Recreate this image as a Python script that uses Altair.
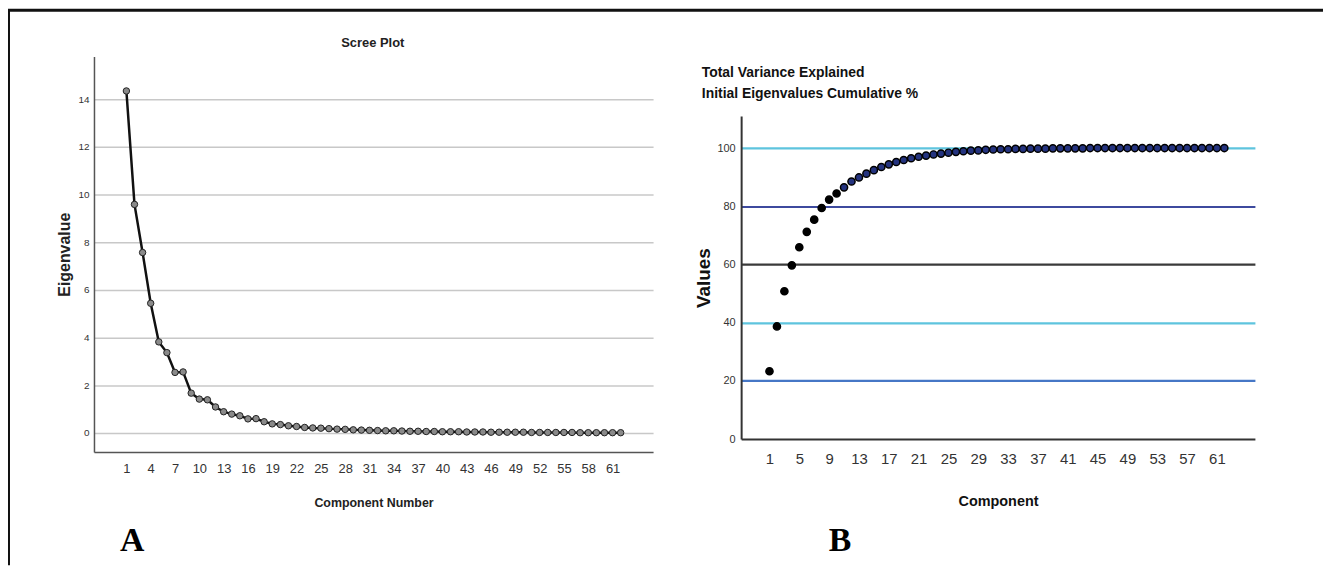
import altair as alt
import pandas as pd

# ---------------- data ----------------
components = list(range(1, 63))
eigenvalues = [14.35, 9.59, 7.57, 5.44, 3.82, 3.37, 2.54, 2.56, 1.67, 1.42,
               1.39, 1.09, 0.89, 0.79, 0.72, 0.59, 0.60, 0.47, 0.38, 0.35,
               0.30, 0.27, 0.23, 0.21, 0.20, 0.18, 0.16, 0.15, 0.13, 0.12,
               0.11, 0.10, 0.09, 0.09, 0.08, 0.07, 0.07, 0.06, 0.06, 0.05,
               0.05, 0.05, 0.04, 0.04, 0.04, 0.03, 0.03, 0.03, 0.03, 0.03,
               0.02, 0.02, 0.02, 0.02, 0.02, 0.02, 0.01, 0.01, 0.01, 0.01,
               0.01, 0.01]
cumulative_pct = [23.3, 38.7, 50.8, 59.7, 65.9, 71.2, 75.4, 79.4, 82.3, 84.4,
                  86.5, 88.5, 89.9, 91.2, 92.4, 93.5, 94.4, 95.2, 95.9, 96.5,
                  97.0, 97.4, 97.8, 98.1, 98.4, 98.7, 98.9, 99.1, 99.2, 99.4,
                  99.5, 99.6, 99.6, 99.7, 99.7, 99.8, 99.8, 99.8, 99.9, 99.9,
                  99.9, 99.9, 99.9, 100.0, 100.0, 100.0, 100.0, 100.0, 100.0, 100.0,
                  100.0, 100.0, 100.0, 100.0, 100.0, 100.0, 100.0, 100.0, 100.0, 100.0,
                  100.0, 100.0]
left_x_ticks = list(range(1, 62, 3))
left_y_ticks = [0, 2, 4, 6, 8, 10, 12, 14]
right_x_ticks = list(range(1, 62, 4))
right_y_ticks = [0, 20, 40, 60, 80, 100]

df_a = pd.DataFrame({"Component": components, "Eigenvalue": eigenvalues})
df_b = pd.DataFrame({"Component": components, "Cumulative": cumulative_pct})

W, H = 1323, 559
SANS = "Liberation Sans, Arial, sans-serif"
SERIF = "Liberation Serif, Times New Roman, serif"

# ---------------- panel A: scree plot ----------------
xa = alt.X("Component:Q",
           scale=alt.Scale(domain=[-3, 66], range=[86.5, 649], nice=False, zero=False),
           axis=alt.Axis(orient="bottom", offset=-114, values=left_x_ticks, grid=False,
                         ticks=False, domainColor="#555555", domainWidth=1.5,
                         labelFont=SANS, labelFontSize=13, labelColor="#333333",
                         labelPadding=11, title="Component Number", titleFont=SANS,
                         titleFontSize=12.5, titleFontWeight="bold", titleColor="#222222",
                         titlePadding=21))
ya = alt.Y("Eigenvalue:Q",
           scale=alt.Scale(domain=[-0.8, 15.8], range=[445, 47], nice=False, zero=False),
           axis=alt.Axis(orient="left", offset=-86.5, values=left_y_ticks, grid=True,
                         gridColor="#c8c8c8", gridWidth=1.5, ticks=False,
                         domainColor="#555555", domainWidth=1.5,
                         labelFont=SANS, labelFontSize=10, labelColor="#333333",
                         labelPadding=5, title="Eigenvalue", titleFont=SANS,
                         titleFontSize=16, titleFontWeight="bold", titleColor="#222222",
                         titlePadding=5))
base_a = alt.Chart(df_a).encode(x=xa, y=ya)
line_a = base_a.mark_line(color="#111111", strokeWidth=2.5)
pts_a = base_a.mark_point(filled=True, fill="#8a8a8a", stroke="#222222",
                          strokeWidth=1, size=42, opacity=1)
panel_a = alt.layer(line_a, pts_a)

# ---------------- panel B: cumulative % ----------------
grid_colors = {"condition": [
    {"test": "datum.value === 20", "value": "#4677c6"},
    {"test": "datum.value === 60", "value": "#3a3a3a"},
    {"test": "datum.value === 80", "value": "#3d4a9e"},
    {"test": "datum.value === 0", "value": "transparent"},
], "value": "#5ec4de"}

xb = alt.X("Component:Q",
           scale=alt.Scale(domain=[-2.8, 66.1], range=[737.6, 1254.5], nice=False, zero=False),
           axis=alt.Axis(orient="bottom", offset=-127, values=right_x_ticks, grid=False,
                         ticks=False, domainColor="#333333", domainWidth=2,
                         labelFont=SANS, labelFontSize=15, labelColor="#333333",
                         labelPadding=13, title="Component", titleFont=SANS,
                         titleFontSize=14.5, titleFontWeight="bold", titleColor="#111111",
                         titlePadding=28))
yb = alt.Y("Cumulative:Q",
           scale=alt.Scale(domain=[0, 111], range=[432, 107], nice=False, zero=False),
           axis=alt.Axis(orient="left", offset=-737.6, values=right_y_ticks, grid=True,
                         gridColor=grid_colors, gridWidth=2.2, ticks=False,
                         domainColor="#333333", domainWidth=2,
                         labelFont=SANS, labelFontSize=11, labelColor="#333333",
                         labelPadding=6, title="Values", titleFont=SANS,
                         titleFontSize=19, titleFontWeight="bold", titleColor="#111111",
                         titlePadding=3))
pts_b = alt.Chart(df_b).mark_point(filled=True, stroke="#000000", strokeWidth=1.5,
                                   size=52, opacity=1).encode(
    x=xb, y=yb,
    fill=alt.condition("datum.Component <= 10", alt.value("#000000"), alt.value("#24337f")))
panel_b = pts_b

# ---------------- decorations ----------------
border_left = alt.Chart().mark_rule(color="#111111", strokeWidth=3).encode(
    x=alt.value(0.5), y=alt.value(0), y2=alt.value(H))
border_top = alt.Chart().mark_rule(color="#111111", strokeWidth=3).encode(
    y=alt.value(0.5), x=alt.value(0), x2=alt.value(W))
title_a = alt.Chart().mark_text(font=SANS, fontSize=13, fontWeight="bold",
                                color="#222222", align="center", baseline="middle").encode(
    x=alt.value(367), y=alt.value(34), text=alt.value("Scree Plot"))
title_b1 = alt.Chart().mark_text(font=SANS, fontSize=14, fontWeight="bold",
                                 color="#111111", align="left", baseline="middle").encode(
    x=alt.value(698), y=alt.value(64), text=alt.value("Total Variance Explained"))
title_b2 = alt.Chart().mark_text(font=SANS, fontSize=14, fontWeight="bold",
                                 color="#111111", align="left", baseline="middle").encode(
    x=alt.value(698), y=alt.value(85), text=alt.value("Initial Eigenvalues Cumulative %"))
label_a = alt.Chart().mark_text(font=SERIF, fontSize=34, fontWeight="bold",
                                color="#000000", align="center", baseline="alphabetic").encode(
    x=alt.value(125), y=alt.value(545), text=alt.value("A"))
label_b = alt.Chart().mark_text(font=SERIF, fontSize=34, fontWeight="bold",
                                color="#000000", align="center", baseline="alphabetic").encode(
    x=alt.value(837), y=alt.value(545), text=alt.value("B"))

chart = alt.layer(
    panel_a, panel_b, border_left, border_top,
    title_a, title_b1, title_b2, label_a, label_b,
).resolve_scale(x="independent", y="independent").resolve_axis(
    x="independent", y="independent"
).properties(
    width=W, height=H, padding=0,
    autosize=alt.AutoSizeParams(type="none"),
    background="#ffffff",
).configure_view(stroke=None)

chart.save("out.html", embed_options={"renderer": "svg", "actions": False})
